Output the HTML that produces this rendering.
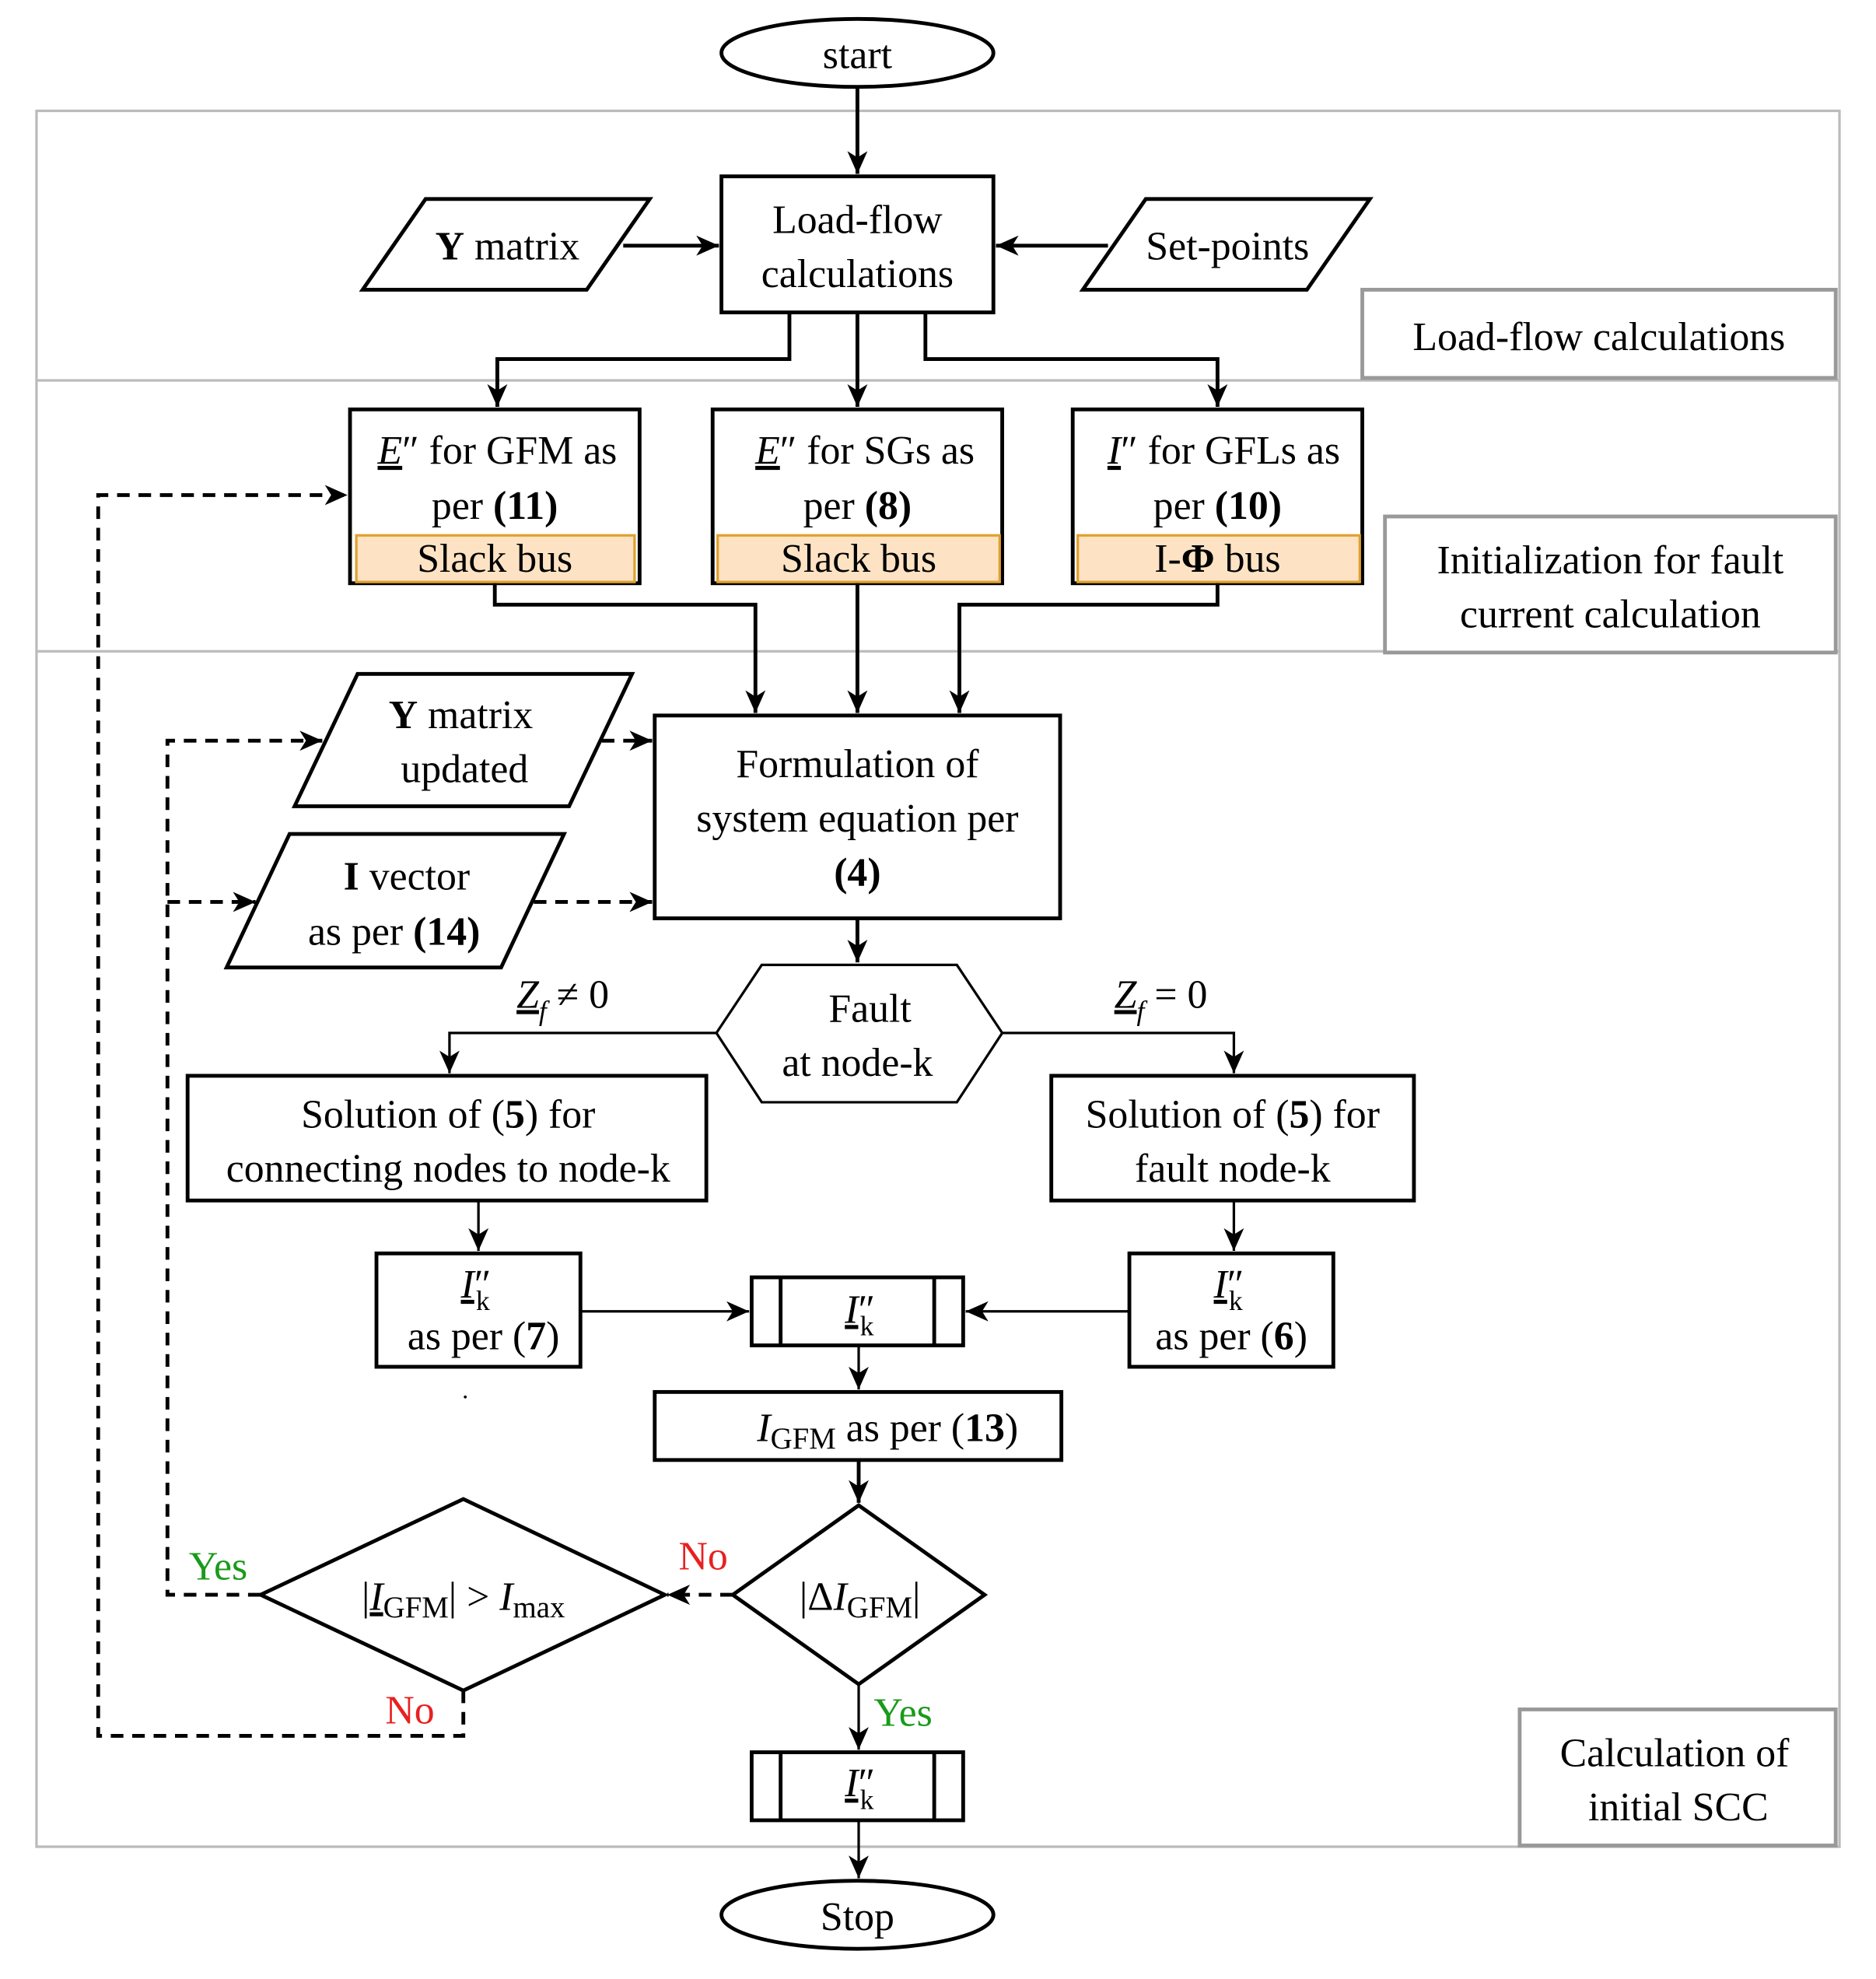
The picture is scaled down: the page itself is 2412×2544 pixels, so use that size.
<!DOCTYPE html>
<html><head><meta charset="utf-8"><style>
html,body{margin:0;padding:0;background:#fff}
svg{display:block}
svg, text, tspan{font-family:"Liberation Serif","DejaVu Serif",serif}
text{fill:#000}
</style></head><body>
<svg width="2412" height="2544" viewBox="0 0 1490 1571" preserveAspectRatio="none" xmlns="http://www.w3.org/2000/svg" font-family="Liberation Serif, DejaVu Serif, serif">
<defs>
<marker id="b" markerWidth="20" markerHeight="16" refX="18" refY="8" orient="auto" markerUnits="userSpaceOnUse"><path d="M0,0 L18,8 L0,16 L5,8 Z"/></marker>
</defs>
<rect x="29" y="88" width="1432" height="1378" fill="none" stroke="#bbb" stroke-width="2"/>
<line x1="29" y1="302" x2="1461" y2="302" stroke="#bbb" stroke-width="2"/>
<line x1="29" y1="517" x2="1461" y2="517" stroke="#bbb" stroke-width="2"/>
<rect x="1082" y="230" width="376" height="70" fill="#fff" stroke="#999" stroke-width="3"/>
<text x="1270" y="278" font-size="32" text-anchor="middle">Load-flow calculations</text>
<rect x="1100" y="410" width="358" height="108" fill="#fff" stroke="#999" stroke-width="3"/>
<text x="1279" y="455" font-size="32" text-anchor="middle">Initialization for fault</text>
<text x="1279" y="498" font-size="32" text-anchor="middle">current calculation</text>
<rect x="1207" y="1357" width="251" height="108" fill="#fff" stroke="#999" stroke-width="3"/>
<text x="1330" y="1402" font-size="32" text-anchor="middle">Calculation of</text>
<text x="1333" y="1445" font-size="32" text-anchor="middle">initial SCC</text>

<g fill="none" stroke="#000" stroke-width="3">
<ellipse cx="681" cy="42" rx="108" ry="27" fill="#fff"/>
<ellipse cx="681" cy="1520" rx="108" ry="27" fill="#fff"/>
<rect x="573" y="140" width="216" height="108"/>
<polygon points="288,230 338,158 516,158 466,230"/>
<polygon points="860,230 910,158 1088,158 1038,230"/>
<rect x="278" y="325" width="230" height="138"/>
<rect x="566" y="325" width="230" height="138"/>
<rect x="852" y="325" width="230" height="138"/>
<rect x="520" y="568" width="322" height="161"/>
<polygon points="234,640 284,535 502,535 452,640"/>
<polygon points="180,768 230,662 448,662 398,768"/>
<rect x="149" y="854" width="412" height="99"/>
<rect x="835" y="854" width="288" height="99"/>
<rect x="299" y="995" width="162" height="90"/>
<rect x="897" y="995" width="162" height="90"/>
<rect x="597" y="1014" width="168" height="54"/>
<line x1="620" y1="1014" x2="620" y2="1068"/><line x1="742" y1="1014" x2="742" y2="1068"/>
<rect x="520" y="1105" width="323" height="54"/>
<polygon points="582,1266 682,1195 782,1266 682,1337"/>
<polygon points="207,1266 368,1190 528,1266 368,1342"/>
<rect x="597" y="1391" width="168" height="54"/>
<line x1="620" y1="1391" x2="620" y2="1445"/><line x1="742" y1="1391" x2="742" y2="1445"/>
</g>
<polygon points="569,820 605,766 760,766 796,820 760,875 605,875" fill="none" stroke="#000" stroke-width="2"/>
<g fill="#fde3c3" stroke="#e0a030" stroke-width="2">
<rect x="283" y="425" width="221" height="37"/>
<rect x="570" y="425" width="224" height="37"/>
<rect x="856" y="425" width="224" height="37"/>
</g>

<g fill="none" stroke="#000" stroke-width="3" marker-end="url(#b)">
<path d="M681,69 V138"/>
<path d="M495,195 H571"/>
<path d="M880,195 H791"/>
<path d="M627,248 V285 H395 V323"/>
<path d="M681,248 V323"/>
<path d="M735,248 V285 H967 V323"/>
<path d="M393,463 V480 H600 V566"/>
<path d="M681,463 V566"/>
<path d="M967,463 V480 H762 V566"/>
<path d="M681,729 V764"/>
<path d="M682,1159 V1193"/>
</g>
<g fill="none" stroke="#000" stroke-width="2" marker-end="url(#b)">
<path d="M569,820 H357 V852"/>
<path d="M796,820 H980 V852"/>
<path d="M380,953 V993"/>
<path d="M980,953 V993"/>
<path d="M461,1041 H595"/>
<path d="M897,1041 H767"/>
<path d="M682,1068 V1103"/>
<path d="M682,1337 V1389"/>
<path d="M682,1445 V1491"/>
</g>
<g fill="none" stroke="#000" stroke-width="3" stroke-dasharray="10,7">
<path d="M207,1266 H133 V588 H256" marker-end="url(#b)"/>
<path d="M133,716 H203" marker-end="url(#b)"/>
<path d="M478,588 H518" marker-end="url(#b)"/>
<path d="M424,716 H518" marker-end="url(#b)"/>
<path d="M368,1342 V1378 H78 V393 H276" marker-end="url(#b)"/>
<path d="M582,1266 H530" marker-end="url(#b)"/>
</g>

<g font-size="32" text-anchor="middle">
<text x="681" y="54">start</text>
<text x="681" y="1532">Stop</text>
<text x="681" y="185">Load-flow</text>
<text x="681" y="228">calculations</text>
<text x="403" y="206"><tspan font-weight="bold">Y</tspan> matrix</text>
<text x="975" y="206">Set-points</text>
<text x="395" y="368"><tspan font-style="italic" text-decoration="underline">E</tspan>″ for GFM as</text>
<text x="393" y="412">per <tspan font-weight="bold">(11)</tspan></text>
<text x="393" y="454">Slack bus</text>
<text x="687" y="368"><tspan font-style="italic" text-decoration="underline">E</tspan>″ for SGs as</text>
<text x="681" y="412">per <tspan font-weight="bold">(8)</tspan></text>
<text x="682" y="454">Slack bus</text>
<text x="972" y="368"><tspan font-style="italic" text-decoration="underline">I</tspan>″ for GFLs as</text>
<text x="967" y="412">per <tspan font-weight="bold">(10)</tspan></text>
<text x="967" y="454">I-<tspan font-weight="bold">Φ</tspan>  bus</text>
<text x="681" y="617">Formulation of</text>
<text x="681" y="660">system equation per</text>
<text x="681" y="703"><tspan font-weight="bold">(4)</tspan></text>
<text x="366" y="578"><tspan font-weight="bold">Y</tspan> matrix</text>
<text x="369" y="621">updated</text>
<text x="323" y="706"><tspan font-weight="bold">I</tspan> vector</text>
<text x="313" y="750">as per <tspan font-weight="bold">(14)</tspan></text>
<text x="691" y="811">Fault</text>
<text x="681" y="854">at node-k</text>
<text x="447" y="800"><tspan font-style="italic" text-decoration="underline">Z</tspan><tspan font-style="italic" font-size="22" dy="10">f</tspan><tspan dy="-10"> ≠ 0</tspan></text>
<text x="922" y="800"><tspan font-style="italic" text-decoration="underline">Z</tspan><tspan font-style="italic" font-size="22" dy="10">f</tspan><tspan dy="-10"> = 0</tspan></text>
<text x="356" y="895">Solution of (<tspan font-weight="bold">5</tspan>) for</text>
<text x="356" y="938">connecting nodes to node-k</text>
<text x="979" y="895">Solution of (<tspan font-weight="bold">5</tspan>) for</text>
<text x="979" y="938">fault node-k</text>
<text x="378" y="1030"><tspan font-style="italic" text-decoration="underline">I</tspan>″<tspan font-size="22" dy="10" dx="-12">k</tspan></text>
<text x="384" y="1071">as per (<tspan font-weight="bold">7</tspan>)</text>
<text x="976" y="1030"><tspan font-style="italic" text-decoration="underline">I</tspan>″<tspan font-size="22" dy="10" dx="-12">k</tspan></text>
<text x="978" y="1071">as per (<tspan font-weight="bold">6</tspan>)</text>
<text x="683" y="1050"><tspan font-style="italic" text-decoration="underline">I</tspan>″<tspan font-size="22" dy="10" dx="-12">k</tspan></text>
<text x="683" y="1426"><tspan font-style="italic" text-decoration="underline">I</tspan>″<tspan font-size="22" dy="10" dx="-12">k</tspan></text>
<text x="705" y="1144"><tspan font-style="italic">I</tspan><tspan font-size="24" dy="6">GFM</tspan><tspan dy="-6">  as per (</tspan><tspan font-weight="bold">13</tspan>)</text>
<text x="683" y="1278">|Δ<tspan font-style="italic">I</tspan><tspan font-size="24" dy="6">GFM</tspan><tspan dy="-6">|</tspan></text>
<text x="368" y="1278">|<tspan font-style="italic" text-decoration="underline">I</tspan><tspan font-size="24" dy="6">GFM</tspan><tspan dy="-6">| &gt; </tspan><tspan font-style="italic">I</tspan><tspan font-size="24" dy="6">max</tspan></text>
</g>
<text x="367" y="1110" font-size="20">.</text>
<g font-size="32">
<text x="150" y="1254" style="fill:#1a9a1a">Yes</text>
<text x="694" y="1370" style="fill:#1a9a1a">Yes</text>
<text x="539" y="1246" style="fill:#e82020">No</text>
<text x="306" y="1368" style="fill:#e82020">No</text>
</g>
</svg>
</body></html>
